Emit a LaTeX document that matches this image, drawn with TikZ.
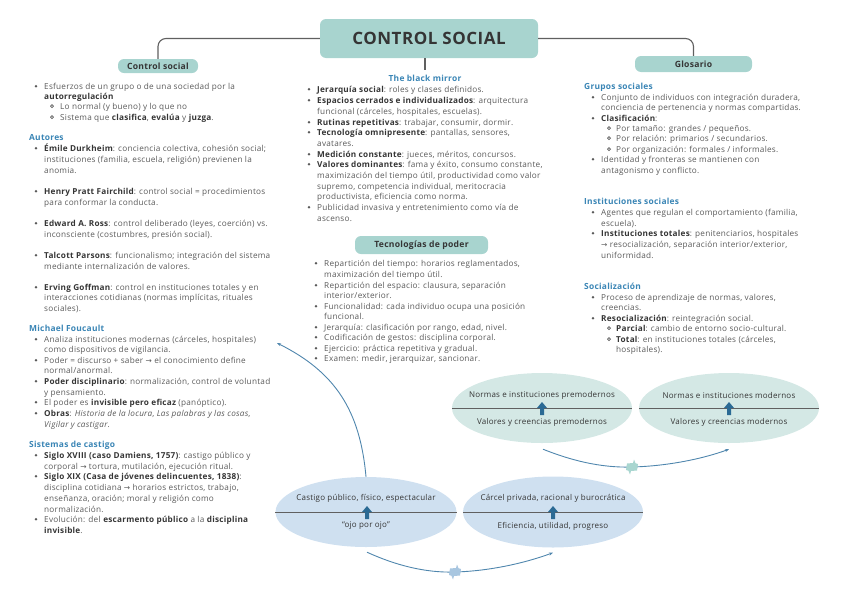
\documentclass[tikz,border=0pt]{standalone}
\usepackage{fontspec}
\setmainfont[LetterSpace=3]{Open Sans}
\newfontfamily\dv{DejaVu Sans}
\usetikzlibrary{shapes.geometric,calc,arrows.meta}
\definecolor{tealbox}{HTML}{A8D4CF}
\definecolor{darkt}{HTML}{353535}
\definecolor{bodyc}{HTML}{5A5A5A}
\definecolor{headb}{HTML}{3A85B5}
\definecolor{elteal}{HTML}{D4E8E5}
\definecolor{elblue}{HTML}{CFE0F0}
\definecolor{arrb}{HTML}{2B6A94}
\definecolor{connb}{HTML}{4F86AD}
\definecolor{mkteal}{HTML}{A9D6D0}
\definecolor{mkblue}{HTML}{A8C6E0}
\definecolor{treec}{HTML}{606060}
\newcommand\Bf[1]{\textbf{\color{darkt}#1}}
\newcommand\myarr{{\dv\fontsize{7.5}{8}\selectfont →}}
\tikzset{
  txt/.style={anchor=base west, inner sep=0pt, font=\fontsize{8.2}{10}\selectfont, text=bodyc},
  head/.style={anchor=base west, inner sep=0pt, font=\fontsize{8.4}{10}\selectfont\bfseries, text=headb},
  box/.style={fill=tealbox, rounded corners=6pt, inner sep=0pt, text=darkt, font=\fontsize{8.6}{10}\selectfont\bfseries},
  eltxt/.style={inner sep=0pt, font=\fontsize{8}{9}\selectfont, text=darkt},
  tree/.style={draw=treec, line width=1.1pt, rounded corners=8pt},
  conn/.style={draw=connb, line width=0.9pt, -{Stealth[length=4pt,width=3pt]}},
}
\newcommand\Tx[3]{\node[txt] at (#1,#2) {#3};}
\newcommand\bu[2]{\fill[bodyc] (#1,#2-2.8) circle (1.35);}
\newcommand\sbu[2]{\draw[bodyc, line width=0.7pt] (#1,#2-2.8) circle (1.5);}
\newcommand\upar[2]{\fill[arrb] (#1-2,#2+6) -- (#1-2,#2-1) -- (#1-5,#2-1) -- (#1,#2-7) -- (#1+5,#2-1) -- (#1+2,#2-1) -- (#1+2,#2+6) -- cycle;}
\newcommand\mkr[3]{\fill[#3] (#1-5,#2-3.5) -- (#1+1,#2-4) -- (#1+2,#2-7.5) -- (#1+3.5,#2-3.8) -- (#1+6,#2-3) -- (#1+5,#2+3.5) -- (#1-1,#2+4) -- (#1-2,#2+7.5) -- (#1-3.5,#2+3.8) -- (#1-6,#2+3) -- cycle;}
\begin{document}
\begin{tikzpicture}[x=1pt,y=-1pt]
\useasboundingbox (0,0) rectangle (848,600);
% title and top boxes
\node[box, minimum width=218pt, minimum height=39pt, font=\fontsize{17}{19}\selectfont\bfseries] (title) at (429,38.5) {CONTROL SOCIAL};
\node[box, minimum width=80pt, minimum height=14pt, rounded corners=6pt] (cs) at (158,66) {Control social};
\node[box, minimum width=117pt, minimum height=16pt] (glos) at (693.5,64) {Glosario};
\node[box, minimum width=133pt, minimum height=18pt] (tec) at (421.5,245) {Tecnologías de poder};
\coordinate (bm) at (425,70);
\draw[tree] (title.west) -| (cs.north);
\draw[tree] (title.east) -| (glos.north);
\draw[tree] (title.south -| bm) -- (bm);

% left column
\Tx{44}{89}{Esfuerzos de un grupo o de una sociedad por la}\bu{36}{89}
\Tx{44}{99}{\Bf{autorregulación}}
\Tx{60}{109}{Lo normal (y bueno) y lo que no}\sbu{52}{109}
\Tx{60}{120}{Sistema que \Bf{clasifica}, \Bf{evalúa} y \Bf{juzga}.}\sbu{52}{120}
\node[head] at (29,140) {Autores};
\Tx{44}{151}{\Bf{Émile Durkheim}: conciencia colectiva, cohesión social;}\bu{36}{151}
\Tx{44}{162}{instituciones (familia, escuela, religión) previenen la}
\Tx{44}{173}{anomia.}
\Tx{44}{194}{\Bf{Henry Pratt Fairchild}: control social = procedimientos}\bu{36}{194}
\Tx{44}{205}{para conformar la conducta.}
\Tx{44}{226}{\Bf{Edward A. Ross}: control deliberado (leyes, coerción) vs.}\bu{36}{226}
\Tx{44}{237}{inconsciente (costumbres, presión social).}
\Tx{44}{258}{\Bf{Talcott Parsons}: funcionalismo; integración del sistema}\bu{36}{258}
\Tx{44}{269}{mediante internalización de valores.}
\Tx{44}{290}{\Bf{Erving Goffman}: control en instituciones totales y en}\bu{36}{290}
\Tx{44}{300}{interacciones cotidianas (normas implícitas, rituales}
\Tx{44}{311}{sociales).}
\node[head] at (29,331) {Michael Foucault};
\Tx{44}{342}{Analiza instituciones modernas (cárceles, hospitales)}\bu{36}{342}
\Tx{44}{352}{como dispositivos de vigilancia.}
\Tx{44}{363}{Poder = discurso + saber \myarr{} el conocimiento define}\bu{36}{363}
\Tx{44}{373}{normal/anormal.}
\Tx{44}{384}{\Bf{Poder disciplinario}: normalización, control de voluntad}\bu{36}{384}
\Tx{44}{395}{y pensamiento.}
\Tx{44}{405}{El poder es \Bf{invisible pero eficaz} (panóptico).}\bu{36}{405}
\Tx{44}{416}{\Bf{Obras}: \textit{Historia de la locura}, \textit{Las palabras y las cosas},}\bu{36}{416}
\Tx{44}{427}{\textit{Vigilar y castigar}.}
\node[head] at (29,447) {Sistemas de castigo};
\Tx{44}{458}{\Bf{Siglo XVIII (caso Damiens, 1757)}: castigo público y}\bu{36}{458}
\Tx{44}{469}{corporal \myarr{} tortura, mutilación, ejecución ritual.}
\Tx{44}{479}{\Bf{Siglo XIX (Casa de jóvenes delincuentes, 1838)}:}\bu{36}{479}
\Tx{44}{490}{disciplina cotidiana \myarr{} horarios estrictos, trabajo,}
\Tx{44}{501}{enseñanza, oración; moral y religión como}
\Tx{44}{512}{normalización.}
\Tx{44}{522}{Evolución: del \Bf{escarmento público} a la \Bf{disciplina}}\bu{36}{522}
\Tx{44}{533}{\Bf{invisible}.}

% middle column
\node[head, anchor=base] (bmh) at (425,81) {The black mirror};
\Tx{317}{92}{\Bf{Jerarquía social}: roles y clases definidos.}\bu{309}{92}
\Tx{317}{103}{\Bf{Espacios cerrados e individualizados}: arquitectura}\bu{309}{103}
\Tx{317}{114}{funcional (cárceles, hospitales, escuelas).}
\Tx{317}{125}{\Bf{Rutinas repetitivas}: trabajar, consumir, dormir.}\bu{309}{125}
\Tx{317}{135}{\Bf{Tecnología omnipresente}: pantallas, sensores,}\bu{309}{135}
\Tx{317}{146}{avatares.}
\Tx{317}{157}{\Bf{Medición constante}: jueces, méritos, concursos.}\bu{309}{157}
\Tx{317}{167}{\Bf{Valores dominantes}: fama y éxito, consumo constante,}\bu{309}{167}
\Tx{317}{178}{maximización del tiempo útil, productividad como valor}
\Tx{317}{189}{supremo, competencia individual, meritocracia}
\Tx{317}{199}{productivista, eficiencia como norma.}
\Tx{317}{210}{Publicidad invasiva y entretenimiento como vía de}\bu{309}{210}
\Tx{317}{221}{ascenso.}

\Tx{324}{266}{Repartición del tiempo: horarios reglamentados,}\bu{316}{266}
\Tx{324}{277}{maximización del tiempo útil.}
\Tx{324}{288}{Repartición del espacio: clausura, separación}\bu{316}{288}
\Tx{324}{298}{interior/exterior.}
\Tx{324}{309}{Funcionalidad: cada individuo ocupa una posición}\bu{316}{309}
\Tx{324}{319}{funcional.}
\Tx{324}{330}{Jerarquía: clasificación por rango, edad, nivel.}\bu{316}{330}
\Tx{324}{340}{Codificación de gestos: disciplina corporal.}\bu{316}{340}
\Tx{324}{351}{Ejercicio: práctica repetitiva y gradual.}\bu{316}{351}
\Tx{324}{361}{Examen: medir, jerarquizar, sancionar.}\bu{316}{361}

% right column
\node[head] at (584,89) {Grupos sociales};
\Tx{601}{100}{Conjunto de individuos con integración duradera,}\bu{593}{100}
\Tx{601}{110}{conciencia de pertenencia y normas compartidas.}
\Tx{601}{121}{\Bf{Clasificación}:}\bu{593}{121}
\Tx{616}{131}{Por tamaño: grandes / pequeños.}\sbu{609}{131}
\Tx{616}{141}{Por relación: primarios / secundarios.}\sbu{609}{141}
\Tx{616}{152}{Por organización: formales / informales.}\sbu{609}{152}
\Tx{601}{162}{Identidad y fronteras se mantienen con}\bu{593}{162}
\Tx{601}{173}{antagonismo y conflicto.}
\node[head] at (584,204) {Instituciones sociales};
\Tx{601}{215}{Agentes que regulan el comportamiento (familia,}\bu{593}{215}
\Tx{601}{226}{escuela).}
\Tx{601}{236}{\Bf{Instituciones totales}: penitenciarios, hospitales}\bu{593}{236}
\Tx{601}{247}{\myarr{} resocialización, separación interior/exterior,}
\Tx{601}{258}{uniformidad.}
\node[head] at (584,289) {Socialización};
\Tx{601}{300}{Proceso de aprendizaje de normas, valores,}\bu{593}{300}
\Tx{601}{310}{creencias.}
\Tx{601}{321}{\Bf{Resocialización}: reintegración social.}\bu{593}{321}
\Tx{616}{331}{\Bf{Parcial}: cambio de entorno socio-cultural.}\sbu{609}{331}
\Tx{616}{342}{\Bf{Total}: en instituciones totales (cárceles,}\sbu{609}{342}
\Tx{616}{352}{hospitales).}

% ellipses
\node[ellipse, fill=elteal, minimum width=180pt, minimum height=70pt, inner sep=0pt] (e1) at (542,408) {};
\node[ellipse, fill=elteal, minimum width=180pt, minimum height=70pt, inner sep=0pt] (e2) at (729,408) {};
\node[ellipse, fill=elblue, minimum width=181pt, minimum height=70pt, inner sep=0pt] (e3) at (366,512) {};
\node[ellipse, fill=elblue, minimum width=180pt, minimum height=71pt, inner sep=0pt] (e4) at (553,512) {};
\foreach \e in {e1,e2,e3,e4}{\draw[treec, line width=1pt] (\e.west) -- (\e.east);}
\node[eltxt] (e1a) at (542,395) {Normas e instituciones premodernos};
\node[eltxt] (e1b) at (542,422) {Valores y creencias premodernos};
\node[eltxt] (e2a) at (729,395) {Normas e instituciones modernos};
\node[eltxt] (e2b) at (729,422) {Valores y creencias modernos};
\node[eltxt] (e3a) at (366,498) {Castigo público, físico, espectacular};
\node[eltxt] (e3b) at (366,526) {“ojo por ojo”};
\node[eltxt] (e4a) at (553,498) {Cárcel privada, racional y burocrática};
\node[eltxt] (e4b) at (553,526) {Eficiencia, utilidad, progreso};
\upar{542}{409}\upar{729}{409}\upar{367}{513}\upar{553}{513}

% connectors
\coordinate (fc) at (277,343);
\draw[conn] (e3.north) .. controls (360,410) and (335,372) .. (fc);
\coordinate (m1) at (455,572);
\draw[conn] ($(e3.south)+(1,5)$) .. controls (395,565) and (425,573) .. (m1) .. controls (490,571) and (525,563) .. ($(e4.south)+(0,5)$);
\coordinate (m2) at (632,467);
\draw[conn] ($(e1.south)+(1,6)$) .. controls (570,460) and (600,468) .. (m2) .. controls (670,466) and (705,458) .. ($(e2.south)+(0,6)$);
\mkr{455}{572}{mkblue}
\mkr{632}{467}{mkteal}
\end{tikzpicture}
\end{document}
